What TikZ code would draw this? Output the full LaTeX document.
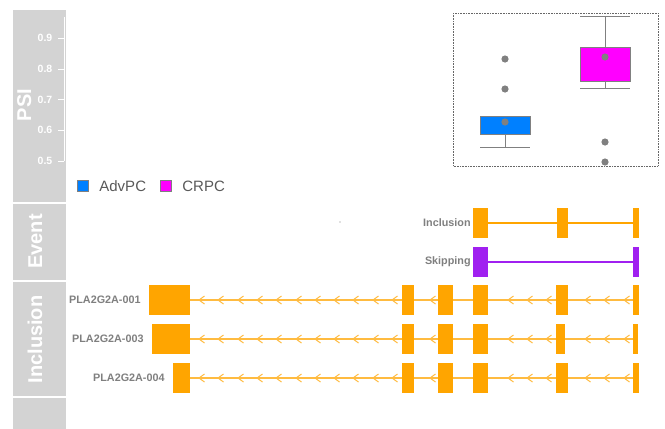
\documentclass[tikz,border=0pt]{standalone}
\usepackage{fontspec}
\setmainfont{Liberation Sans}
\usetikzlibrary{positioning}
\usepackage{xcolor}
\definecolor{stripgray}{HTML}{D3D3D3}
\definecolor{exonorange}{HTML}{FFA500}
\definecolor{skippurple}{HTML}{A020F0}
\definecolor{advblue}{HTML}{0080FF}
\definecolor{crpcmagenta}{HTML}{FF00FF}
\definecolor{labelgray}{HTML}{7F7F7F}
\definecolor{pointgray}{HTML}{808080}
\definecolor{legendgray}{HTML}{595959}

\begin{document}
\begin{tikzpicture}[
    x=1pt, y=-1pt,
    strip/.style={fill=stripgray, draw=none},
    striplabel/.style={white, font=\bfseries\fontsize{20}{24}\selectfont, rotate=90, anchor=base, inner sep=0},
    ticklabel/.style={white, font=\bfseries\fontsize{10.5}{12}\selectfont, anchor=east, inner sep=0},
    exon/.style={fill=exonorange, draw=none, inner sep=0, minimum height=30pt},
    skipexon/.style={fill=skippurple, draw=none, inner sep=0, minimum height=30pt},
    tname/.style={labelgray, font=\bfseries\fontsize{10.8}{12}\selectfont, inner sep=0},
    intron/.style={exonorange!75, line width=1.6pt},
    chevron/.style={exonorange!75, line width=1pt},
    legendkey/.style={draw=pointgray, line width=0.4pt, minimum size=11pt, inner sep=0},
    legendtext/.style={legendgray, font=\fontsize{15}{18}\selectfont, inner sep=0},
    whisker/.style={pointgray, line width=1pt},
    point/.style={fill=pointgray, draw=none}
]
\useasboundingbox (0,0) rectangle (665,429);

% Strips
\fill[strip] (13,10) rectangle (66,202);
\fill[strip] (13,204) rectangle (66,280);
\fill[strip] (13,282) rectangle (66,396);
\fill[strip] (13,398) rectangle (66,429);
\node[striplabel] (psilab) at (31,105) {PSI};
\node[striplabel] (eventlab) at (42,241.5) {Event};
\node[striplabel] (incllab) at (42,339.5) {Inclusion};

% PSI axis
\draw[white, line width=1pt] (64,17) -- (64,161);
\foreach \v/\yy in {0.9/38, 0.8/69, 0.7/99.5, 0.6/130, 0.5/161} {
    \draw[white, line width=1pt] (58,\yy) -- (64,\yy);
    \node[ticklabel] at (52.5,\yy) {\v};
}

% Legend
\node[legendkey, fill=advblue] (advkey) at (82.5,186) {};
\node[legendtext, right=11pt of advkey] (advtext) {AdvPC};
\node[legendkey, fill=crpcmagenta] (crpckey) at (165.5,186) {};
\node[legendtext, right=11pt of crpckey] (crpctext) {CRPC};

% Boxplot
\draw[pointgray!80!black, densely dotted, line width=0.6pt] (453,13) rectangle (658,166);
\draw[whisker] (505,134) -- (505,147);
\draw[whisker] (480,147) -- (530,147);
\draw[whisker, fill=advblue] (480,116) rectangle (530,134);
\draw[whisker] (605,47) -- (605,16);
\draw[whisker] (580,16) -- (630,16);
\draw[whisker] (605,81) -- (605,88);
\draw[whisker] (580,88) -- (630,88);
\draw[whisker, fill=crpcmagenta] (580,47) rectangle (630,81);
\foreach \px/\py in {505/59, 505/89, 505/122, 605/57, 605/142, 605/162}
    \fill[point] (\px,\py) circle (3.6);

% Event
\fill[labelgray] (340,222) circle (0.6);
\foreach \a/\b [count=\i] in {473/488, 557/568, 633/639}
    \node[exon, minimum width={\b-\a}] (ince\i) at ({(\a+\b)/2},223) {};
\draw[exonorange, line width=1.2pt] (ince1.east) -- (ince2.west);
\draw[exonorange, line width=1.2pt] (ince2.east) -- (ince3.west);
\node[tname, left=2pt of ince1] (inctext) {Inclusion};
\node[skipexon, minimum width=15pt] (skpe1) at (480.5,262) {};
\node[skipexon, minimum width=6pt] (skpe2) at (636,262) {};
\draw[skippurple, line width=1.2pt] (skpe1.east) -- (skpe2.west);
\node[tname, left=2pt of skpe1] (skptext) {Skipping};

% Transcripts
\foreach \row/\yy/\tid/\exons in {
    1/300/001/{149/190,402/414,438/453,473/488,556/568,633/639},
    2/339/003/{152/190,402/414,438/453,473/488,556/565,633/638},
    3/378/004/{173/190,402/414,438/453,473/488,556/568,633/639}} {
    \foreach \a/\b [count=\i] in \exons
        \node[exon, minimum width={\b-\a}] (t\row e\i) at ({(\a+\b)/2},\yy) {};
    \foreach \i [evaluate=\i as \j using int(\i+1)] in {1,...,5}
        \draw[intron] (t\row e\i.east) -- (t\row e\j.west);
    \foreach \cx in {199,218,238,257,276,296,315,334,353,373,392,430,508,527,546,585,604,624}
        \draw[chevron] (\cx+5.5,\yy-4) -- (\cx,\yy) -- (\cx+5.5,\yy+4);
    \node[tname, left=8pt of t\row e1] (t\row text) {PLA2G2A-\tid};
}

\end{tikzpicture}
\end{document}
